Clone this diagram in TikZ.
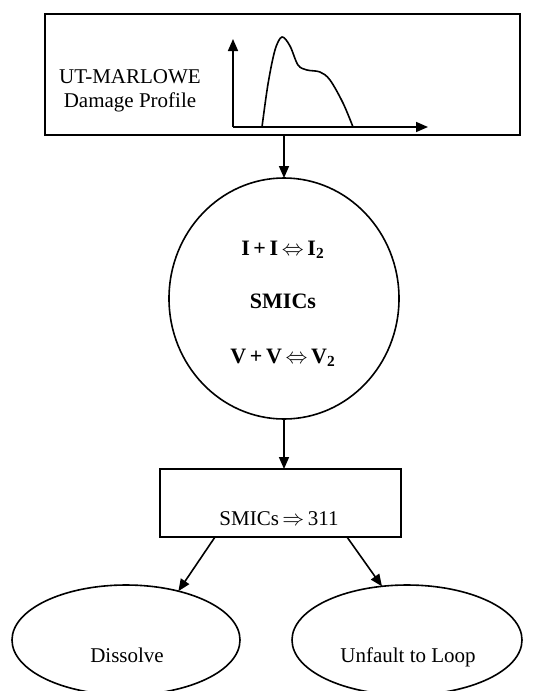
\documentclass[tikz,border=0pt]{standalone}
\usepackage{fontspec}
\setmainfont{Liberation Serif}
\usetikzlibrary{shapes.geometric,arrows.meta,positioning}

\begin{document}
\begin{tikzpicture}
  [
    x=0.5pt, y=-0.5pt,
    line width=0.8pt,
    >={Triangle[length=6pt, width=5pt]},
    box/.style =
      {draw, rectangle, inner sep=0pt, outer sep=0pt},
    oval/.style =
      {draw, ellipse, inner sep=0pt, outer sep=0pt},
    txt/.style =
      {font=\fontsize{10.5}{12}\selectfont, inner sep=0pt, align=center},
    eqn/.style =
      {font=\fontsize{11}{13}\selectfont\bfseries, inner sep=0pt}
  ]
  \useasboundingbox (0,0) rectangle (551,691);

  \node [box, minimum width=237.5pt, minimum height=60.5pt] at (282.5,74.5) (prof) {};
  \node [txt] at (130,91) (name) {UT-MARLOWE\\Damage Profile};

  \coordinate (o) at (233,127);
  \coordinate (ytop) at (233,39);
  \coordinate (xend) at (428,127);
  \draw [->] (o) -- (ytop);
  \draw [->] (o) -- (xend);
  \draw plot [smooth, tension=0.55] coordinates
    {(262,127) (268,84) (275,50) (282,37) (290,46) (298,65) (307,70)
     (320,72) (330,80) (343,103) (353,127)};

  \node [oval, minimum width=115pt, minimum height=120.5pt] at (284,298.5) (smic) {};
  \node [eqn, anchor=base] at (283,255) (ii) {I\,+\,I\,$\Leftrightarrow$\,I\textsubscript{2}};
  \node [eqn, anchor=base] at (283,308) (sm) {SMICs};
  \node [eqn, anchor=base] at (283,363) (vv) {V\,+\,V\,$\Leftrightarrow$\,V\textsubscript{2}};

  \node [box, minimum width=120.5pt, minimum height=34pt] at (280.5,503) (conv) {};
  \node [txt, anchor=base] at (279,525) (cl) {SMICs\,$\Rightarrow$\,311};

  \node [oval, minimum width=114pt, minimum height=55pt] at (126,640) (diss) {};
  \node [txt, anchor=base] at (127,662) (dl) {Dissolve};
  \node [oval, minimum width=115pt, minimum height=55pt] at (407,640) (loop) {};
  \node [txt, anchor=base] at (408,662) (ll) {Unfault to Loop};

  \draw [->] (prof.south -| smic.north) -- (smic.north);
  \draw [->] (smic.south) -- (smic.south |- conv.north);
  \draw [->] ([xshift=27.5pt]conv.south west) -- (diss.43);
  \draw [->] ([xshift=-27pt]conv.south east) -- (loop.115);

\end{tikzpicture}
\end{document}
